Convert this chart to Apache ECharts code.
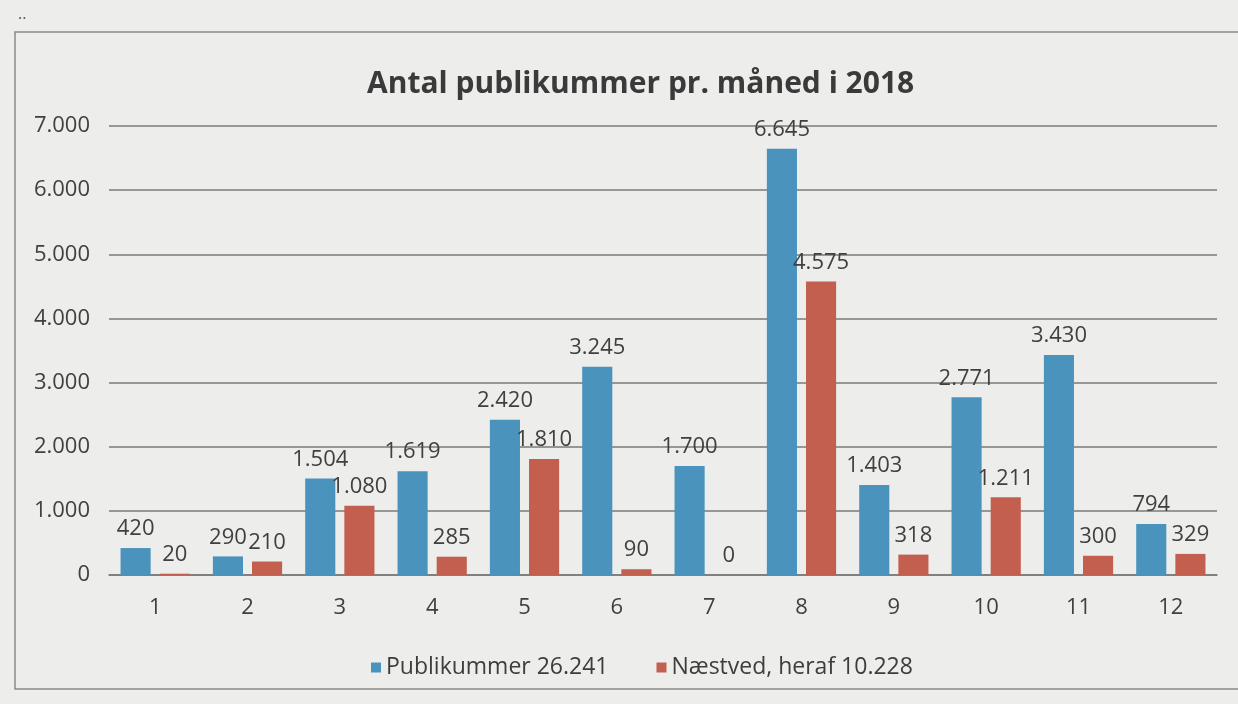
<!DOCTYPE html>
<html><head><meta charset="utf-8">
<script src="https://cdn.jsdelivr.net/npm/echarts@6/dist/echarts.min.js"></script>
<style>html,body{margin:0;padding:0;background:#ededeb;}#c{width:1238px;height:704px;}</style>
</head><body><div id="c"></div>
<script>
var categories = ['1','2','3','4','5','6','7','8','9','10','11','12'];
var publikummer = [420, 290, 1504, 1619, 2420, 3245, 1700, 6645, 1403, 2771, 3430, 794];
var naestved = [20, 210, 1080, 285, 1810, 90, 0, 4575, 318, 1211, 300, 329];
var seriesNames = ['Publikummer 26.241', 'Næstved, heraf 10.228'];
var titleText = 'Antal publikummer pr. måned i 2018';

function fmt(v){ return String(v).replace(/\B(?=(\d{3})+(?!\d))/g, '.'); }
var font = '"Open Sans", "Liberation Sans", sans-serif';
var chart = echarts.init(document.getElementById('c'), null, {renderer:'canvas'});
chart.setOption({
  backgroundColor: '#ededeb',
  animation: false,
  title: { text: titleText, left: 362, top: 64,
    textStyle: { fontFamily: font, fontSize: 30, fontWeight: 'bold', color: '#3a3a3a' } },
  graphic: [
    { type: 'rect', shape: { x: 15, y: 32, width: 1240, height: 657 },
      style: { fill: 'none', stroke: '#8a8a8a', lineWidth: 1.5 } },
    { type: 'text', left: 18, top: 6, style: { text: '..', fill: '#555', font: '16px ' + font } }
  ],
  legend: { bottom: 20, left: 366, itemWidth: 10, itemHeight: 10, itemGap: 48,
    icon: 'rect', textStyle: { fontFamily: font, fontSize: 23, color: '#3d3d3d' } },
  grid: { left: 109, right: 21, top: 126, bottom: 129 },
  xAxis: { type: 'category', data: categories,
    axisLine: { lineStyle: { color: '#7a7a7a', width: 1.5 } },
    axisTick: { show: false },
    axisLabel: { fontFamily: font, fontSize: 22, color: '#404040', margin: 22 } },
  yAxis: { type: 'value', min: 0, max: 7000, interval: 1000,
    axisLine: { show: false }, axisTick: { show: false },
    splitLine: { lineStyle: { color: '#7a7a7a', width: 1.5 } },
    axisLabel: { fontFamily: font, fontSize: 22, color: '#404040', margin: 19, formatter: fmt } },
  series: [
    { name: seriesNames[0], type: 'bar', data: publikummer, barGap: '30%', barCategoryGap: '25%',
      itemStyle: { color: '#4a93bd' },
      label: { show: true, position: 'top', distance: 8, fontFamily: font, fontSize: 22, color: '#404040', formatter: function(p){return fmt(p.value);} } },
    { name: seriesNames[1], type: 'bar', data: naestved,
      itemStyle: { color: '#c25f4e' },
      label: { show: true, position: 'top', distance: 8, fontFamily: font, fontSize: 22, color: '#404040', formatter: function(p){return fmt(p.value);} } }
  ]
});
</script></body></html>
